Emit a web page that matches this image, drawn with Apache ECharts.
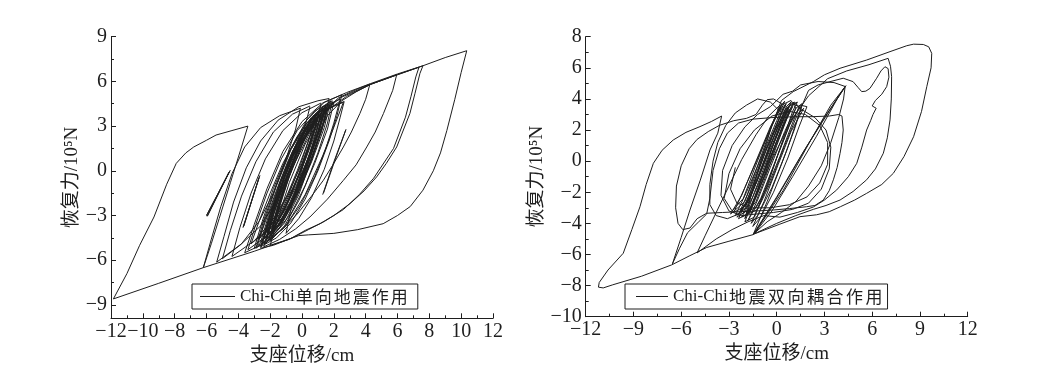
<!DOCTYPE html>
<html><head><meta charset="utf-8">
<script src="https://cdn.jsdelivr.net/npm/echarts@6/dist/echarts.min.js"></script>
<style>html,body{margin:0;padding:0;background:#fff}#c{width:1050px;height:387px}</style>
</head><body><div id="c"></div>
<script>
// ---------- labels / ticks ----------
const xName = '支座位移/cm';
const yName = '恢复力/10\u2075N';
const leftSeriesName = 'Chi-Chi单向地震作用';
const rightSeriesName = 'Chi-Chi地震双向耦合作用';
const leftYTicks = [-9, -6, -3, 0, 3, 6, 9];
const leftYMinorTicks = [-7.5, -4.5, -1.5, 1.5, 4.5, 7.5];

// ---------- left chart: Chi-Chi uni-directional (x cm, y 1e5 N) ----------
const leftBig = [[-0.8,-2.6],[0.0,-0.2],[0.8,2.0],[1.6,3.7],[2.5,4.7],[3.4,5.3],[4.3,5.8],[6.0,6.45],[7.6,7.05],[9.0,7.6],[10.35,8.06],
 [10.0,6.6],[9.6,4.8],[9.1,2.7],[8.7,1.2],[8.25,0.0],[7.6,-1.3],[6.8,-2.4],[6.0,-3.0],[5.1,-3.55],[3.5,-3.95],[2.0,-4.2],[0.4,-4.3],[-0.2,-4.35],
 [-3.0,-5.4],[-6.2,-6.5],[-9.0,-7.55],[-11.85,-8.6],
 [-11.0,-6.9],[-10.2,-5.0],[-9.3,-3.1],[-8.5,-0.9],[-7.9,0.5],[-7.3,1.2],[-6.8,1.6],[-6.0,2.05],[-5.4,2.4],[-4.4,2.7],[-3.4,3.0],
 [-3.8,1.6],[-4.5,-0.8],[-5.2,-3.2],[-5.7,-4.9],[-6.2,-6.5]];
const leftLoopB = [[-6.2,-6.5],[-5.7,-4.6],[-5.1,-2.4],[-4.4,-0.2],[-3.6,1.6],[-2.6,2.9],[-1.4,3.7],[-0.1,4.2],
 [-0.4,2.8],[-1.0,0.8],[-1.8,-1.5],[-2.7,-3.4],[-3.8,-4.9],[-5.36,-6.13],
 [-4.9,-4.4],[-4.3,-2.1],[-3.5,0.2],[-2.6,2.0],[-1.5,3.4],[-0.2,4.3],[1.0,4.7],[1.7,4.85],
 [1.3,3.0],[0.6,0.8],[-0.2,-1.6],[-1.1,-3.5],[-2.2,-4.8],[-3.6,-5.5]];
const leftLoopC = [[-3.6,-5.5],[-3.0,-3.6],[-2.2,-1.2],[-1.2,1.3],[0.0,3.3],[1.3,4.55],[2.8,5.25],[4.3,5.85],[6.0,6.5],[7.6,7.05],
 [7.41,6.54],[7.1,5.2],[6.78,3.85],[5.95,1.6],[5.3,0.5],[4.69,-0.41],[3.9,-1.35],[3.02,-2.2],[2.0,-3.0],[1.13,-3.55],[0.2,-4.0],[-0.8,-4.6],[-2.0,-5.0]];
const leftLoopD = [[-2.0,-5.0],[-1.5,-3.2],[-0.8,-0.8],[0.2,1.8],[1.4,3.9],[2.8,5.0],[4.3,5.8],[6.0,6.45],[7.35,6.95],
 [7.15,6.3],[6.85,5.0],[6.5,3.6],[5.75,1.5],[4.5,-0.5],[3.6,-1.6],[2.6,-2.6],[1.4,-3.4],[0.4,-3.95],[-0.6,-4.5],[-1.8,-5.0],[-2.6,-5.2]];
const leftLoopE = [[-2.6,-5.2],[-2.0,-3.3],[-1.2,-0.9],[-0.2,1.6],[1.0,3.6],[2.4,4.9],[4.3,5.8],[5.95,6.45],
 [5.7,5.4],[5.12,3.85],[4.6,2.6],[4.07,1.6],[3.4,0.4],[2.6,-0.64],[1.6,-1.9],[0.5,-3.1],[-0.4,-3.9],[-1.4,-4.6],[-2.4,-5.1]];
const leftLoopF = [[-2.4,-5.1],[-1.9,-3.2],[-1.1,-0.8],[-0.1,1.7],[1.0,3.6],[2.3,4.9],[3.4,5.45],[4.27,5.82],
 [4.0,4.8],[3.64,3.85],[3.1,2.6],[2.6,1.6],[2.0,0.5],[1.34,-0.64],[0.6,-1.7],[-0.3,-2.9],[-1.2,-3.9],[-2.2,-4.7],[-2.9,-5.2]];
const leftLoopG = [[-2.9,-5.2],[-2.4,-3.3],[-1.6,-0.9],[-0.7,1.5],[0.3,3.4],[1.4,4.6],[2.5,5.1],
 [2.2,3.7],[1.7,2.0],[1.0,0.0],[0.2,-1.9],[-0.7,-3.5],[-1.6,-4.5],[-2.6,-5.1]];
const leftLoopH = [[1.2,4.5],[0.8,2.8],[0.0,0.5],[-0.9,-1.6],[-1.9,-3.4],[-3.0,-4.7],[-4.4,-5.75],[-3.9,-3.8],[-3.2,-1.5],[-2.3,0.8],[-1.2,2.7],[0.0,3.9],[1.2,4.55]];
const leftLoopI = [[0.5,4.3],[0.1,2.6],[-0.6,0.4],[-1.5,-1.8],[-2.6,-3.7],[-3.9,-5.0],[-5.0,-5.9],[-4.5,-4.0],[-3.8,-1.7],[-2.9,0.6],[-1.8,2.6],[-0.6,3.8],[0.5,4.35]];
const leftCore = [[-2.6,-5.1],[-2.1,-3.2],[-1.3,-0.6],[-0.2,2.2],[0.9,3.9],[1.8,4.7],
 [1.4,2.9],[0.6,0.6],[-0.4,-1.9],[-1.4,-3.8],[-2.3,-4.9],
 [-1.8,-3.0],[-1.0,-0.5],[0.0,2.1],[1.1,3.9],[2.0,4.6],
 [1.6,2.8],[0.8,0.5],[-0.2,-2.0],[-1.1,-3.7],[-2.0,-4.7],
 [-1.6,-2.9],[-0.9,-0.6],[0.1,2.0],[1.3,4.0],[2.6,4.6],
 [2.1,3.2],[1.3,1.0],[0.2,-1.6],[-0.9,-3.5],[-1.9,-4.6],
 [-1.5,-2.7],[-0.9,-0.4],[-0.1,1.8],[0.7,3.3],[1.4,3.9],
 [1.0,2.4],[0.3,0.2],[-0.6,-2.1],[-1.6,-3.9],[-2.5,-4.9],
 [-2.0,-3.0],[-1.3,-0.7],[-0.4,1.6],[0.5,3.2],[1.2,3.7],
 [0.8,2.2],[0.1,0.0],[-0.7,-2.1],[-1.5,-3.6],[-2.2,-4.4],
 [-1.8,-2.6],[-1.1,-0.4],[-0.3,1.7],[0.6,3.4],[1.5,4.3],
 [1.1,2.7],[0.4,0.5],[-0.5,-1.8],[-1.3,-3.4],[-1.9,-4.1],
 [-1.5,-2.4],[-0.9,-0.3],[-0.1,1.7],[0.7,3.2],[1.3,3.8],
 [0.9,2.3],[0.2,0.2],[-0.6,-1.9],[-1.4,-3.5],[-2.1,-4.3],
 [-1.7,-2.6],[-1.1,-0.5],[-0.3,1.5],[0.5,3.0],[1.0,3.5],
 [0.6,2.0],[-0.1,-0.1],[-0.9,-2.2],[-1.7,-3.8],[-2.6,-4.8],
 [-2.1,-3.0],[-1.4,-0.8],[-0.6,1.3],[0.3,3.0],[0.9,3.6],
 [0.5,2.0],[-0.2,-0.2],[-1.0,-2.3],[-1.8,-3.9],[-2.8,-5.0],
 [-2.3,-3.2],[-1.6,-1.0],[-0.7,1.4],[0.3,3.2],[1.1,4.0],
 [0.7,2.5],[0.0,0.3],[-0.8,-1.9],[-1.6,-3.6],[-2.4,-4.6],
 [-2.0,-2.9],[-1.3,-0.7],[-0.5,1.5],[0.5,3.4],[1.6,4.4],
 [1.2,2.8],[0.5,0.6],[-0.4,-1.7],[-1.3,-3.5],[-2.2,-4.5],
 [-1.8,-2.8],[-1.2,-0.6],[-0.4,1.6],[0.6,3.5],[1.7,4.5],
 [1.3,2.9],[0.6,0.7],[-0.3,-1.6],[-1.2,-3.4],[-2.0,-4.4],
 [-1.6,-2.6],[-1.0,-0.6],[-0.3,1.4],[0.5,3.1],[1.2,3.9],
 [0.9,2.6],[0.3,0.4],[-0.5,-1.8],[-1.4,-3.6],[-2.3,-4.7],
 [-1.9,-2.9],[-1.2,-0.7],[-0.4,1.5],[0.5,3.3],[1.4,4.2],
 [1.0,2.6],[0.2,0.2],[-0.8,-2.2],[-2.0,-4.2],[-3.4,-5.3],
 [-2.9,-3.6],[-2.2,-1.5],[-1.3,0.8],[-0.3,2.7],[0.8,4.0],[1.9,4.7],
 [1.6,3.2],[1.0,1.2],[0.2,-1.0],[-0.7,-2.9],[-1.8,-4.3],[-3.0,-5.2],
 [-2.5,-3.4],[-1.8,-1.2],[-0.9,1.1],[0.2,3.1],[1.3,4.3],[2.4,4.8],
 [2.0,3.2],[1.5,1.5],[0.8,-0.4],[-0.1,-2.3],[-1.1,-3.8],[-2.1,-4.7],
 [-1.5,-2.5],[-0.6,0.2],[0.6,2.8],[1.6,4.2],[2.65,4.65],
 [2.4,3.6],[2.0,2.0],[1.4,0.1],[0.6,-1.8],[-0.2,-3.2],[-1.0,-4.2]];
const leftCore2 = [[-1.0,-4.2],[-0.7,-2.6],[-0.2,-0.6],[0.4,1.5],[1.0,3.2],[1.6,4.1],
 [1.2,2.6],[0.5,0.5],[-0.3,-1.5],[-1.1,-3.2],[-1.8,-4.0],
 [-1.4,-2.4],[-0.8,-0.4],[0.0,1.7],[0.8,3.4],[1.5,4.2],
 [1.0,2.5],[0.3,0.3],[-0.5,-1.7],[-1.2,-3.1],[-1.9,-3.9],
 [-1.6,-2.7],[-1.0,-0.8],[-0.3,1.1],[0.4,2.7],[1.0,3.6],
 [0.6,2.2],[0.0,0.2],[-0.7,-1.6],[-1.5,-3.2],[-2.3,-4.2],
 [-1.9,-2.8],[-1.3,-1.0],[-0.6,0.9],[0.2,2.6],[0.9,3.7],
 [0.5,2.3],[-0.1,0.4],[-0.8,-1.5],[-1.6,-3.1],[-2.4,-4.3],
 [-2.0,-3.0],[-1.4,-1.2],[-0.7,0.7],[0.1,2.5],[0.8,3.5],
 [0.4,2.0],[-0.3,0.0],[-1.0,-1.8],[-1.8,-3.4],[-2.7,-4.6],
 [-2.2,-3.1],[-1.6,-1.3],[-0.9,0.6],[-0.1,2.4],[0.6,3.5],[1.3,4.2],
 [0.9,2.7],[0.2,0.7],[-0.6,-1.2],[-1.4,-2.9],[-2.2,-4.0],[-3.2,-4.9],
 [-2.7,-3.4],[-2.0,-1.5],[-1.2,0.5],[-0.3,2.3],[0.6,3.6],[1.5,4.4],
 [1.1,2.9],[0.4,0.9],[-0.4,-1.1],[-1.2,-2.8],[-2.0,-3.9],[-2.9,-4.6]];
const leftShort1 = [[-4.5,0.05],[-6.0,-3.0],[-4.55,-0.05],[-5.95,-3.05],[-4.6,-0.1]];
const leftShort2 = [[-2.64,-0.3],[-3.7,-3.8],[-2.7,-0.45],[-3.65,-3.7]];
const leftShort3 = [[1.3,-1.6],[2.0,0.6],[2.76,2.77],[2.1,0.8],[1.35,-1.5]];

// ---------- right chart: Chi-Chi bi-directional coupled ----------
const rightBig = [[-1.47,-4.72],[-3.0,-5.15],[-4.4,-5.55],[-5.5,-6.1],[-6.6,-6.67],[-8.5,-7.4],[-10.3,-7.95],[-10.9,-8.15],[-11.2,-8.1],[-11.15,-7.8],[-10.6,-7.0],
 [-9.64,-5.92],[-9.1,-4.4],[-8.59,-2.93],[-8.2,-1.5],[-7.75,-0.14],[-7.2,0.7],[-6.5,1.36],[-5.7,1.85],[-4.82,2.22],[-4.1,2.55],[-3.46,2.9],
 [-3.7,1.8],[-4.19,0.72],[-4.8,-1.22],[-5.45,-3.14],[-6.0,-4.9],[-6.55,-6.6]];
const rightLeftLoops = [[-6.55,-6.6],[-6.1,-5.6],[-5.6,-4.6],[-4.9,-3.9],[-4.4,-3.4],[-4.2,-2.4],[-4.0,-0.6],[-3.6,0.8],[-3.1,1.8],[-2.4,2.45],[-1.5,2.7],[-0.3,2.8],[1.0,2.85],[2.3,2.86],[3.3,2.9],[3.9,3.0],[4.1,2.9],
 [4.18,2.0],[4.1,1.2],[3.98,0.5],[3.8,-0.4],[3.56,-1.2],[3.3,-1.9],[2.93,-2.5],[2.4,-2.85],[1.88,-2.93],[0.8,-3.05],[-0.21,-3.14],[-1.2,-3.2],[-2.3,-3.25],[-3.4,-3.3],[-4.4,-3.35],
 [-5.0,-3.7],[-5.45,-4.3],[-5.9,-4.4],[-6.2,-4.0],[-6.35,-3.0],[-6.3,-1.6],[-6.0,-0.3],[-5.5,0.8],[-5.0,1.4],[-4.3,1.9],[-3.6,2.3],[-2.7,2.6],[-1.9,2.75],[-1.3,3.0],[-0.9,3.6],[-0.6,3.95],[-0.2,4.0]];
const rightUpperLeft = [[-0.2,4.0],[0.3,3.7],[0.2,3.2],[-0.4,3.8],[-1.2,4.0],[-1.9,3.6],[-2.6,3.1],[-3.2,2.3],[-3.7,1.2],[-4.0,0.0],[-4.2,-1.5],[-4.2,-2.8],[-3.8,-3.5],[-3.1,-3.7],[-2.4,-3.4],[-1.9,-2.6],[-1.3,-1.0],[-0.6,0.9],[0.1,2.4],[0.7,3.5]];
const rightCore = [[0.7,3.5],[1.3,3.8],[1.0,3.2],[0.2,0.8],[-0.6,-1.6],[-1.4,-3.6],[-2.0,-3.9],[-1.2,-1.8],[-0.3,0.8],[0.5,2.9],[0.9,3.8],[0.6,3.5],[-0.1,1.4],[-0.9,-1.0],[-1.7,-3.3],[-2.4,-3.7],
 [-1.6,-1.9],[-0.7,0.6],[0.2,2.8],[0.6,3.7],[0.4,3.4],[-0.3,1.5],[-1.1,-0.9],[-1.9,-3.0],[-2.6,-3.5],[-1.9,-2.0],[-0.9,0.4],[0.0,2.6],[0.5,3.85],[0.2,3.5],[-0.4,2.0],[-1.2,-0.3],[-2.0,-2.6],[-2.9,-3.4],
 [-2.2,-2.2],[-1.3,0.0],[-0.4,2.2],[0.3,3.6],[0.9,3.9],[1.2,3.4],[0.6,1.8],[-0.2,-0.3],[-1.0,-2.4],[-1.8,-3.8],[-1.2,-2.5],[-0.4,-0.4],[0.5,1.9],[1.2,3.4],[1.6,3.7],[1.3,2.7],[0.6,0.6],[-0.3,-1.7],[-1.2,-3.5],[-1.6,-4.0],
 [-0.9,-2.3],[0.0,0.2],[0.8,2.3],[1.5,3.6],[1.9,3.5],[1.4,2.2],[0.7,0.2],[-0.2,-2.0],[-1.0,-3.6],[-1.5,-4.2],[-0.8,-2.6],[0.1,-0.2],[0.9,1.9],[1.7,3.4],[1.3,3.0],[0.5,1.0],[-0.4,-1.4],[-1.2,-3.1],[-2.2,-3.6],
 [-1.5,-2.3],[-0.6,-0.2],[0.3,2.0],[1.0,3.5],[0.7,3.2],[0.0,1.3],[-0.8,-1.0],[-1.6,-3.0],[-2.5,-3.6],[-1.7,-2.4],[-0.8,-0.2],[0.1,2.0],[0.8,3.6],[1.1,3.8]];
const rightCore2 = [[1.1,3.8],[0.7,2.9],[0.0,1.0],[-0.7,-1.0],[-1.3,-2.6],[-1.9,-3.4],[-1.4,-2.0],[-0.6,0.1],[0.2,2.1],[0.8,3.5],[0.5,3.3],[-0.2,1.5],[-1.0,-0.7],[-1.8,-2.6],[-2.3,-3.2],
 [-1.6,-1.6],[-0.8,0.5],[0.0,2.4],[0.5,3.6],[0.8,3.3],[0.3,1.9],[-0.5,-0.2],[-1.2,-2.1],[-1.7,-3.3],[-1.1,-1.6],[-0.3,0.5],[0.4,2.3],[1.0,3.7],[1.4,3.5],[0.9,2.2],[0.2,0.3],[-0.6,-1.7],[-1.3,-3.0],[-2.1,-3.3],
 [-1.5,-1.8],[-0.7,0.3],[0.1,2.2],[0.7,3.4],[0.3,2.8],[-0.4,1.0],[-1.2,-1.2],[-2.0,-2.9],[-2.7,-3.3],[-2.0,-1.7],[-1.1,0.4],[-0.3,2.3],[0.3,3.5],[0.0,3.1],[-0.6,1.6],[-1.4,-0.5],[-2.1,-2.4],[-2.8,-3.2]];
const rightExtra = [[-2.8,-3.2],[-3.3,-2.4],[-3.0,-0.8],[-2.3,0.8],[-1.4,2.0],[-0.3,2.9],[0.8,3.2],[1.8,3.0],[2.7,2.3],[3.2,1.2],[3.2,-0.2],[2.7,-1.4],[1.9,-2.3],[0.8,-2.8],[-0.4,-3.0],[-1.6,-3.0],[-2.5,-2.7],[-2.9,-1.8],[-2.6,-0.4]];
const rightMidLoops = [[1.1,3.8],[1.6,3.3],[2.4,2.8],[3.1,2.0],[3.4,0.9],[3.3,-0.5],[2.8,-1.8],[2.0,-2.7],[1.0,-3.1],[-0.2,-3.3],[-1.3,-3.4],[-2.2,-3.5],[-3.0,-3.2],[-3.5,-2.2],[-3.4,-0.6],[-2.8,1.0],[-2.0,2.2],[-1.2,3.0],[-0.4,3.5],
 [0.4,4.3],[1.0,4.5],[1.5,4.9],[2.6,5.12],[3.6,5.05],[4.3,4.8],[4.2,4.0],[3.9,2.8],[3.4,1.2],[2.8,-0.3],[2.0,-1.6],[1.2,-2.6],[0.3,-3.3],[-0.6,-3.9],[-1.47,-4.7]];
const rightFan = [[-1.47,-4.7],[0.0,-2.3],[1.5,0.3],[3.0,2.8],[4.3,4.8],[3.8,4.0],[2.5,1.6],[1.0,-1.0],[-0.3,-3.2],[-1.4,-4.65],[0.1,-2.2],[1.8,0.8],[3.6,3.7],[4.35,4.85],[3.4,3.6],[2.0,1.1],[0.4,-1.9],[-1.45,-4.7]];
const rightOuterRight = [[-1.47,-4.7],[0.2,-4.05],[1.46,-3.57],[2.5,-3.45],[3.3,-3.25],[4.0,-2.93],[4.9,-2.5],[5.65,-2.07],[6.6,-1.5],[7.33,-0.78],[8.0,0.3],[8.6,1.57],[9.1,3.2],[9.43,4.79],[9.7,6.0],[9.74,6.93],[9.55,7.35],[9.21,7.5],[8.6,7.52],[8.17,7.42],[7.12,7.04],[5.65,6.5],[3.98,5.97],[3.0,5.55],[2.3,5.11],[1.04,4.47],[0.3,3.9]];
const rightPeak7 = [[0.3,3.9],[-0.3,2.3],[-1.0,0.0],[-1.6,-2.2],[-2.0,-3.7],[-1.2,-2.0],[-0.2,0.3],[0.9,2.6],[2.0,4.2],[3.2,5.3],[4.4,5.8],[5.8,6.2],[7.0,6.61],[7.15,6.1],[7.22,5.43],[7.2,4.0],[7.12,2.65],[6.95,1.5],[6.7,0.51],[6.2,-0.5],[5.65,-1.2],[4.8,-1.95],[3.98,-2.5],[3.1,-2.85],[2.3,-3.1],[1.2,-3.5],[0.0,-4.0],[-1.47,-4.7]];
const rightWavy = [[-1.47,-4.7],[-0.6,-2.6],[0.3,-0.2],[1.1,2.0],[1.6,3.6],[2.0,4.55],[2.6,4.9],[3.35,5.11],[4.18,5.33],[4.8,5.11],[5.1,4.75],[5.34,4.47],[5.6,4.5],[5.86,4.68],[6.28,5.33],[6.55,5.8],[6.8,6.07],[7.0,5.95],[7.05,5.4],[6.91,4.79],[6.6,4.3],[6.2,3.9],[6.0,3.55],[6.25,3.4],[6.05,3.0],[5.9,2.6],[5.65,2.0],[5.35,0.9],[5.03,-0.14],[4.5,-1.0],[3.77,-1.85],[3.0,-2.5],[2.3,-2.95],[1.3,-3.3],[0.2,-3.6],[-0.8,-3.5]];
const rightLowerLeft = [[-0.8,-3.5],[-1.8,-3.9],[-2.8,-4.4],[-3.8,-5.0],[-5.0,-5.9],[-4.5,-4.8],[-3.8,-3.3],[-3.0,-1.6],[-2.2,0.1],[-1.3,1.7],[-0.5,2.9],[0.2,3.6]];

const leftPaths = [leftBig, leftLoopB, leftLoopC, leftLoopD, leftLoopE, leftLoopF, leftLoopG, leftLoopH, leftLoopI, leftCore, leftCore2, leftShort1, leftShort2, leftShort3];
const rightPaths = [rightBig, rightLeftLoops, rightUpperLeft, rightCore, rightCore2, rightExtra, rightMidLoops, rightFan, rightOuterRight, rightPeak7, rightWavy, rightLowerLeft];

// ---------- styling ----------
const INK = '#1e1e1e';
const SERIF = "'Liberation Serif','Noto Sans CJK SC',serif";
const minus = v => String(v).replace('-', '\u2212');

function xAxis(grid, interval) {
  return {
    type: 'value', gridIndex: grid, min: -12, max: 12, interval: interval,
    name: xName, nameLocation: 'middle', nameGap: 16,
    nameTextStyle: { fontFamily: SERIF, fontSize: 19, color: INK },
    axisLine: { show: true, onZero: false, lineStyle: { color: INK, width: 1 } },
    axisTick: { show: true, inside: true, length: 5, lineStyle: { color: INK } },
    minorTick: { show: true, splitNumber: 2, length: 3, lineStyle: { color: INK } },
    splitLine: { show: false },
    axisLabel: { fontFamily: SERIF, fontSize: 20, color: INK, margin: 3, formatter: minus, hideOverlap: false, showMinLabel: true, showMaxLabel: true, interval: 0 }
  };
}
function legendRich(cjkWidth) {
  return {
    a: { fontFamily: "'Liberation Serif',serif", fontSize: 17, color: INK },
    b: { fontFamily: "'Noto Sans CJK SC'", fontSize: 17, color: INK, width: cjkWidth, align: 'center' }
  };
}
function legendFormatter(name) {
  const m = name.match(/^([A-Za-z\-]+)(.*)$/);
  return '{a|' + m[1] + '}' + Array.from(m[2]).map(c => '{b|' + c + '}').join('');
}
function mkSeries(paths, name, xi, yi) {
  return paths.map(p => ({
    type: 'line', name: name, xAxisIndex: xi, yAxisIndex: yi, data: p,
    showSymbol: false, symbol: 'none', smooth: false, clip: false,
    lineStyle: { color: INK, width: 1 }, itemStyle: { color: INK },
    emphasis: { disabled: true }, silent: true
  }));
}

const option = {
  animation: false,
  backgroundColor: '#fff',
  grid: [
    { left: 111, top: 36.7, width: 382, height: 281.6, containLabel: false },
    { left: 585.7, top: 36.7, width: 382, height: 280, containLabel: false }
  ],
  xAxis: [xAxis(0, 2), xAxis(1, 3)],
  yAxis: [
    { type: 'value', gridIndex: 0, min: -9.9, max: 9, position: 'left',
      name: yName, nameLocation: 'middle', nameGap: 24, nameRotate: 90,
      nameTextStyle: { fontFamily: SERIF, fontSize: 19, color: INK },
      axisLine: { show: true, onZero: false, lineStyle: { color: INK } },
      axisTick: { show: true, inside: true, length: 5, customValues: leftYTicks, lineStyle: { color: INK } },
      splitLine: { show: false },
      axisLabel: { customValues: leftYTicks, fontFamily: SERIF, fontSize: 20, color: INK, margin: 4, formatter: minus, hideOverlap: false } },
    { type: 'value', gridIndex: 0, min: -9.9, max: 9, position: 'left',
      axisLine: { show: false, onZero: false },
      axisTick: { show: true, inside: true, length: 3, customValues: leftYMinorTicks, lineStyle: { color: INK } },
      splitLine: { show: false },
      axisLabel: { show: false, customValues: leftYMinorTicks } },
    { type: 'value', gridIndex: 1, min: -10, max: 8, interval: 2, position: 'left',
      name: yName, nameLocation: 'middle', nameGap: 27, nameRotate: 90,
      nameTextStyle: { fontFamily: SERIF, fontSize: 19, color: INK },
      axisLine: { show: true, onZero: false, lineStyle: { color: INK } },
      axisTick: { show: true, inside: true, length: 5, lineStyle: { color: INK } },
      minorTick: { show: true, splitNumber: 2, length: 3, lineStyle: { color: INK } },
      splitLine: { show: false },
      axisLabel: { fontFamily: SERIF, fontSize: 20, color: INK, margin: 4, formatter: minus, showMinLabel: true, hideOverlap: false } }
  ],
  legend: [
    { data: [leftSeriesName], left: 192, top: 284, orient: 'horizontal',
      icon: 'rect', itemWidth: 35, itemHeight: 1,
      padding: [4, 10, 4, 8], borderColor: INK, borderWidth: 1, backgroundColor: '#fff',
      formatter: legendFormatter, textStyle: { rich: legendRich(19) }, selectedMode: false },
    { data: [rightSeriesName], left: 625, top: 284, orient: 'horizontal',
      icon: 'rect', itemWidth: 32, itemHeight: 1,
      padding: [4, 5, 4, 11], borderColor: INK, borderWidth: 1, backgroundColor: '#fff',
      formatter: legendFormatter, textStyle: { rich: legendRich(19.5) }, selectedMode: false }
  ],
  series: [].concat(mkSeries(leftPaths, leftSeriesName, 0, 0), mkSeries(rightPaths, rightSeriesName, 1, 2))
};
const chart = echarts.init(document.getElementById('c'), null, { renderer: 'canvas' });
chart.setOption(option);
</script>
</body></html>
